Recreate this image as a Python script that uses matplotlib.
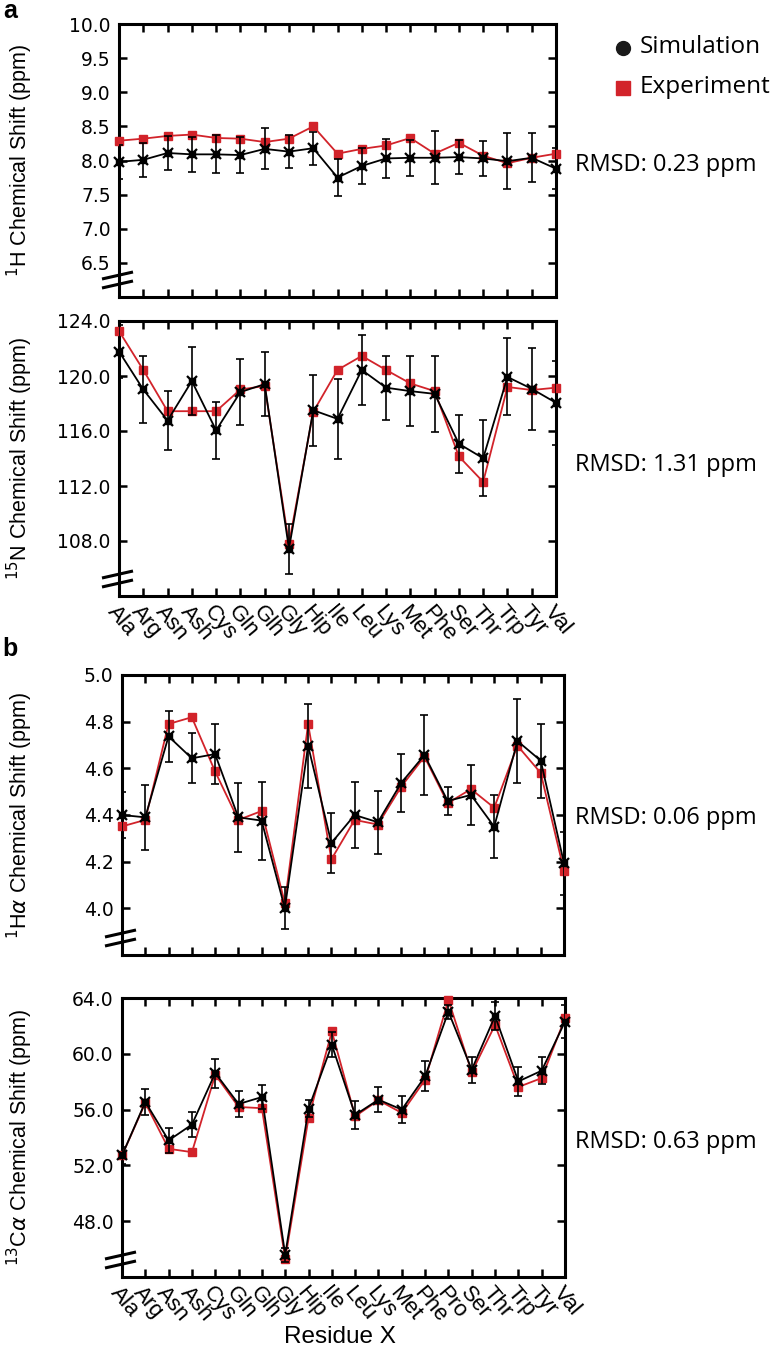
import matplotlib
matplotlib.use("Agg")
import matplotlib.pyplot as plt
from matplotlib.lines import Line2D
import numpy as np

# Residue names
res_a = ['Ala', 'Arg', 'Asn', 'Ash', 'Cys', 'Gln', 'Glh', 'Gly', 'Hip', 'Ile',
         'Leu', 'Lys', 'Met', 'Phe', 'Ser', 'Thr', 'Trp', 'Tyr', 'Val']
res_b = ['Ala', 'Arg', 'Asn', 'Ash', 'Cys', 'Gln', 'Glh', 'Gly', 'Hip', 'Ile',
         'Leu', 'Lys', 'Met', 'Phe', 'Pro', 'Ser', 'Thr', 'Trp', 'Tyr', 'Val']

# 1H amide
h_sim = [7.98, 8.01, 8.11, 8.09, 8.09, 8.08, 8.17, 8.13, 8.18, 7.75,
         7.92, 8.03, 8.04, 8.04, 8.05, 8.03, 7.99, 8.04, 7.88]
h_exp = [8.29, 8.32, 8.36, 8.38, 8.33, 8.32, 8.27, 8.32, 8.50, 8.10,
         8.17, 8.22, 8.33, 8.10, 8.26, 8.07, 7.96, 8.04, 8.10]
h_err = [0.25, 0.25, 0.25, 0.26, 0.28, 0.27, 0.30, 0.24, 0.24, 0.27,
         0.26, 0.28, 0.26, 0.39, 0.25, 0.25, 0.41, 0.36, 0.30]

# 15N amide
n_sim = [121.78, 119.02, 116.76, 119.63, 116.05, 118.83, 119.41, 107.44, 117.51, 116.88,
         120.44, 119.15, 118.90, 118.70, 115.07, 114.02, 119.93, 119.07, 118.05]
n_exp = [123.27, 120.44, 117.44, 117.44, 117.44, 119.02, 119.27, 107.80, 117.39, 120.44,
         121.46, 120.44, 119.46, 118.90, 114.15, 112.30, 119.20, 118.98, 119.15]
n_err = [1.90, 2.41, 2.15, 2.49, 2.06, 2.39, 2.34, 1.83, 2.59, 2.89,
         2.52, 2.32, 2.56, 2.76, 2.10, 2.78, 2.80, 2.98, 3.05]

# 1H alpha
ha_sim = [4.40, 4.39, 4.737, 4.643, 4.661, 4.39, 4.376, 4.00, 4.697, 4.28,
          4.40, 4.369, 4.537, 4.657, 4.46, 4.486, 4.35, 4.717, 4.633, 4.193]
ha_exp = [4.351, 4.379, 4.79, 4.819, 4.587, 4.379, 4.417, 4.023, 4.79, 4.21,
          4.379, 4.359, 4.521, 4.65, 4.451, 4.511, 4.431, 4.697, 4.58, 4.161]
ha_err = [0.10, 0.14, 0.11, 0.107, 0.127, 0.148, 0.167, 0.09, 0.18, 0.13,
          0.14, 0.136, 0.125, 0.173, 0.06, 0.127, 0.136, 0.18, 0.158, 0.136]

# 13C alpha
ca_sim = [52.71, 56.55, 53.79, 54.93, 58.62, 56.40, 56.90, 45.60, 56.07, 60.64,
          55.62, 56.71, 56.00, 58.38, 63.02, 58.86, 62.71, 58.02, 58.79, 62.31]
ca_exp = [52.71, 56.48, 53.19, 52.95, 58.50, 56.19, 56.10, 45.29, 55.40, 61.60,
          55.52, 56.67, 55.76, 58.14, 63.86, 58.67, 62.07, 57.62, 58.26, 62.55]
ca_err = [0.60, 0.93, 0.88, 0.90, 1.04, 0.90, 0.87, 0.50, 0.60, 0.90,
          0.98, 0.90, 0.99, 1.07, 0.50, 0.94, 1.00, 1.01, 0.98, 1.20]

rmsd = ['RMSD: 0.23 ppm', 'RMSD: 1.31 ppm', 'RMSD: 0.06 ppm', 'RMSD: 0.63 ppm']

RED = '#d2232a'
W, H = 776, 1350
fig = plt.figure(figsize=(W / 100, H / 100), dpi=100)


def px_rect(l, t, r, b):
    return [l / W, 1 - b / H, (r - l) / W, (b - t) / H]


def draw_break(l, b):
    # two short slanted strokes across the y axis near the bottom
    for dy in (0, 9):
        x0, y0 = l - 17, b - 9 - dy
        x1, y1 = l + 14, b - 16 - dy
        fig.add_artist(Line2D([x0 / W, x1 / W], [1 - y0 / H, 1 - y1 / H],
                              transform=fig.transFigure, color='k', lw=2.2,
                              solid_capstyle='butt'))


def panel(rect, names, sim, exp, err, ylim, yticks, ylabel, rmsd_txt, rmsd_y, show_x):
    ax = fig.add_axes(px_rect(*rect))
    x = np.arange(len(names))
    ax.plot(x, exp, color=RED, lw=1.3, marker='s', ms=6, mec=RED, mfc=RED,
            clip_on=False, zorder=3)
    ax.errorbar(x, sim, yerr=err, fmt='none', ecolor='k', elinewidth=1.2,
                capsize=3, capthick=1.2, zorder=4)
    ax.plot(x, sim, color='k', lw=1.3, marker='s', ms=5, clip_on=False, zorder=5)
    ax.plot(x, sim, ls='none', marker='x', ms=7, mew=1.6, color='k',
            clip_on=False, zorder=5)
    ax.set_xlim(0, len(names) - 1)
    ax.set_ylim(*ylim)
    ax.set_yticks(yticks)
    ax.set_yticklabels([f'{v:.1f}' for v in yticks], fontsize=13.5, family='DejaVu Sans')
    ax.set_xticks(x)
    if show_x:
        ax.set_xticklabels(names, rotation=-50, ha='left', va='top',
                           rotation_mode='anchor', fontsize=16, family='Liberation Sans')
    else:
        ax.set_xticklabels([])
    ax.tick_params(direction='in', length=6, width=1.8, top=True, right=True, pad=6)
    ax.tick_params(axis='x', pad=4)
    for s in ax.spines.values():
        s.set_linewidth(2.2)
    ax.set_ylabel(ylabel, fontsize=15.5, family='Liberation Sans')
    ax.yaxis.set_label_coords((35 - rect[0]) / (rect[2] - rect[0]), 0.5)
    fig.text(575 / W, 1 - rmsd_y / H, rmsd_txt, fontsize=17, family='Open Sans',
             va='center', ha='left')
    draw_break(rect[0], rect[3])
    return ax


panel((119, 24, 556, 297), res_a, h_sim, h_exp, h_err, (6.0, 10.0),
      np.arange(6.5, 10.01, 0.5), r'$^{1}$H Chemical Shift (ppm)', rmsd[0], 165, False)
panel((119, 321, 556, 596), res_a, n_sim, n_exp, n_err, (104, 124),
      np.arange(108, 124.1, 4), r'$^{15}$N Chemical Shift (ppm)', rmsd[1], 465, True)
panel((122, 675, 564, 955), res_b, ha_sim, ha_exp, ha_err, (3.8, 5.0),
      np.arange(4.0, 5.01, 0.2), r'$^{1}$H$\alpha$ Chemical Shift (ppm)', rmsd[2], 818, False)
panel((122, 998, 565, 1277), res_b, ca_sim, ca_exp, ca_err, (44, 64),
      np.arange(48, 64.1, 4), r'$^{13}$C$\alpha$ Chemical Shift (ppm)', rmsd[3], 1142, True)
fig.text(340 / W, 1 - 1337 / H, 'Residue X', fontsize=17.5, family='Liberation Sans',
         ha='center', va='center')

# panel letters
fig.text(10 / W, 1 - 11 / H, 'a', fontsize=18, fontweight='bold', family='Liberation Sans',
         ha='center', va='center')
fig.text(10 / W, 1 - 649 / H, 'b', fontsize=18, fontweight='bold', family='Liberation Sans',
         ha='center', va='center')

# legend
fig.add_artist(Line2D([623 / W], [1 - 48 / H], transform=fig.transFigure, ls='none',
                      marker='o', ms=10, color='#1a1a1a'))
fig.add_artist(Line2D([623 / W], [1 - 88 / H], transform=fig.transFigure, ls='none',
                      marker='s', ms=9.5, color=RED))
fig.text(640 / W, 1 - 47 / H, 'Simulation', fontsize=17.5, family='Open Sans', va='center')
fig.text(640 / W, 1 - 87 / H, 'Experiment', fontsize=17.5, family='Open Sans', va='center')

fig.savefig('out.png', dpi=100)
